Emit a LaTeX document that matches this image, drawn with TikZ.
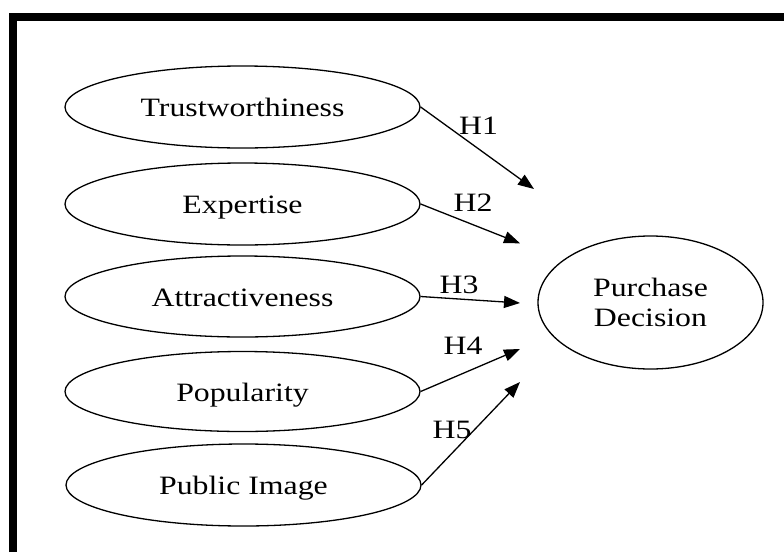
\documentclass[tikz,border=0pt]{standalone}
\usepackage{fontspec}
\setmainfont{Liberation Serif}[FakeStretch=1.2]
\usetikzlibrary{shapes.geometric,arrows.meta}

\begin{document}
\begin{tikzpicture}[x=1pt,y=-1pt,
  construct/.style={ellipse,draw=black,line width=1.3pt,inner sep=0pt,
    minimum width=355pt,minimum height=82pt,text height=19.5pt,text depth=0pt},
  outcome/.style={ellipse,draw=black,line width=1.3pt,inner sep=0pt,
    minimum width=225pt,minimum height=133pt,align=center},
  path/.style={line width=1.3pt,-{Triangle[length=16pt,width=12pt]}},
  hyp/.style={inner sep=0pt},
  font=\fontsize{26.5}{30}\selectfont]

  % canvas and frame
  \useasboundingbox (0,0) rectangle (784,552);
  \fill[white] (0,0) rectangle (784,552);
  \draw[line width=7.5pt] (12.8,552) -- (12.8,17) -- (784,17);

  % independent constructs
  \node[construct] (trust) at (242.5,107)   {Trustworthiness};
  \node[construct] (exp)   at (242.5,204)   {Expertise};
  \node[construct, minimum height=81pt] (attr) at (242.5,296.5) {Attractiveness};
  \node[construct, minimum height=80pt] (pop)  at (242.5,391.5) {Popularity};
  \node[construct] (img)   at (243.5,485)   {Public Image};

  % dependent construct
  \node[outcome] (pd) at (650.5,302.5) {Purchase\\Decision};

  % arrow ends
  \coordinate (e1) at (534,189);
  \coordinate (e2) at (520,243.3);
  \coordinate (e3) at (520,303);
  \coordinate (e4) at (520,349);
  \coordinate (e5) at (520,382);

  % hypothesised paths
  \draw[path] (trust.east) -- (e1);
  \draw[path] (exp.east)   -- (e2);
  \draw[path] (attr.east)  -- (e3);
  \draw[path] (pop.east)   -- (e4);
  \draw[path] (img.east)   -- (e5);

  % hypothesis labels
  \node[hyp] (h1) at (478.5,126)   {H1};
  \node[hyp] (h2) at (473,202.5)   {H2};
  \node[hyp] (h3) at (459,284.5)   {H3};
  \node[hyp] (h4) at (463,346)     {H4};
  \node[hyp] (h5) at (452,429.5)   {H5};
\end{tikzpicture}
\end{document}
